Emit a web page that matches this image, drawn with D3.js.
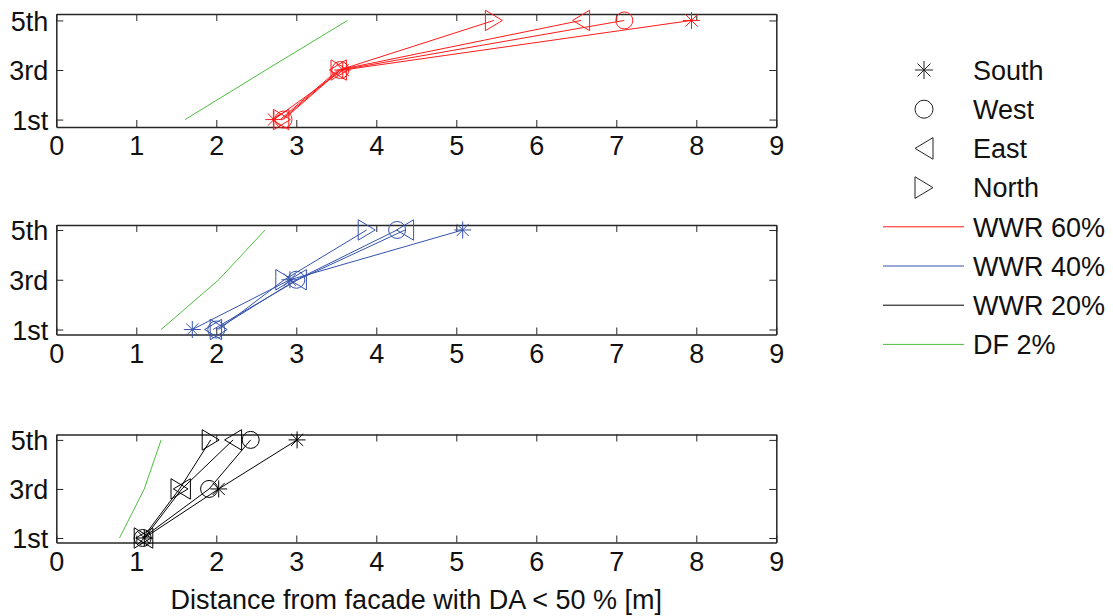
<!DOCTYPE html>
<html><head><meta charset="utf-8">
<script src="https://cdn.jsdelivr.net/npm/d3@7"></script>
<style>body{margin:0;background:#fff}svg{display:block}text{font-family:"Liberation Sans",Arial,sans-serif}</style>
</head><body><svg id="c" width="1113" height="616"></svg>
<script>
// ---- data ----
const xTicks = [0,1,2,3,4,5,6,7,8,9];
const floors = [1,3,5];
const floorLabels = ["1st","3rd","5th"];
const orientations = ["South","West","East","North"];
const seriesNames = ["WWR 60%","WWR 40%","WWR 20%","DF 2%"];
// WWR 60% (distance at 1st, 3rd, 5th floor)
const w60South = [2.72, 3.58, 7.94];
const w60West  = [2.84, 3.55, 7.10];
const w60East  = [2.80, 3.52, 6.56];
const w60North = [2.82, 3.54, 5.47];
const df60     = [1.61, 2.62, 3.64];
// WWR 40%
const w40South = [1.70, 2.92, 5.08];
const w40West  = [2.00, 3.00, 4.26];
const w40East  = [1.96, 3.02, 4.36];
const w40North = [2.03, 2.85, 3.88];
const df40     = [1.31, 2.03, 2.61];
// WWR 20%
const w20South = [1.10, 2.03, 3.01];
const w20West  = [1.08, 1.91, 2.43];
const w20East  = [1.10, 1.57, 2.21];
const w20North = [1.08, 1.54, 1.93];
const df20     = [0.79, 1.10, 1.31];
const xLabel = "Distance from facade with DA < 50 % [m]";

// ---- layout ----
const svg = d3.select("#c");
const FS = 27;
const colors = {"WWR 60%":"#ff1a1a","WWR 40%":"#3553ad","WWR 20%":"#000000","DF 2%":"#4cbf3c"};
const panels = [
  {name:"WWR 60%", top:14, bottom:127, ylim:[0.70,5.26], data:[w60South,w60West,w60East,w60North], df:df60},
  {name:"WWR 40%", top:225, bottom:334.5, ylim:[0.80,5.20], data:[w40South,w40West,w40East,w40North], df:df40},
  {name:"WWR 20%", top:434.5, bottom:542.5, ylim:[0.816,5.22], data:[w20South,w20West,w20East,w20North], df:df20}
];
const x = d3.scaleLinear().domain([0,9]).range([56.3,776.3]);

function markerPath(type, s){
  const p = d3.path();
  if(type==="South"){ // asterisk
    const a = s*0.5, b = s*0.36;
    p.moveTo(-a,0);p.lineTo(a,0);p.moveTo(0,-a);p.lineTo(0,a);
    p.moveTo(-b,-b);p.lineTo(b,b);p.moveTo(-b,b);p.lineTo(b,-b);
  } else if(type==="West"){
    p.moveTo(s*0.5,0);p.arc(0,0,s*0.5,0,2*Math.PI);
  } else if(type==="East"){ // left pointing
    const w=s*0.5, h=s*0.6;
    p.moveTo(-w,0);p.lineTo(w,-h);p.lineTo(w,h);p.closePath();
  } else { // North, right pointing
    const w=s*0.5, h=s*0.6;
    p.moveTo(w,0);p.lineTo(-w,-h);p.lineTo(-w,h);p.closePath();
  }
  return p.toString();
}

panels.forEach(P=>{
  const y = d3.scaleLinear().domain(P.ylim).range([P.bottom,P.top]);
  const g = svg.append("g");
  const col = colors[P.name];
  // axes (MATLAB style, ticks inward, box)
  const axB = d3.axisBottom(x).tickValues(xTicks).tickSizeInner(-7).tickSizeOuter(0).tickPadding(9);
  const axT = d3.axisTop(x).tickValues(xTicks).tickSizeInner(-7).tickSizeOuter(0).tickFormat("");
  const axL = d3.axisLeft(y).tickValues(floors).tickSizeInner(-7).tickSizeOuter(0).tickPadding(8).tickFormat((d,i)=>floorLabels[i]);
  const axR = d3.axisRight(y).tickValues(floors).tickSizeInner(-7).tickSizeOuter(0).tickFormat("");
  const gb = g.append("g").attr("transform",`translate(0,${P.bottom})`).call(axB);
  const gt = g.append("g").attr("transform",`translate(0,${P.top})`).call(axT);
  const gl = g.append("g").attr("transform",`translate(${x(0)},0)`).call(axL);
  const gr = g.append("g").attr("transform",`translate(${x(9)},0)`).call(axR);
  [gb,gt,gl,gr].forEach(a=>{
    a.select(".domain").attr("stroke","#262626").attr("stroke-width",1.5);
    a.selectAll(".tick line").attr("stroke","#262626").attr("stroke-width",1);
    a.selectAll("text").attr("font-size",FS).attr("font-family",'"Liberation Sans",Arial,sans-serif').attr("fill","#111");
  });
  gb.selectAll(".tick text").attr("dy","0.71em");
  gl.selectAll(".tick text").attr("dy","0.36em");
  // DF line
  const line = d3.line().x(d=>x(d[0])).y(d=>y(d[1]));
  g.append("path").attr("d",line(P.df.map((v,i)=>[v,floors[i]])))
    .attr("fill","none").attr("stroke",colors["DF 2%"]).attr("stroke-width",1);
  // series
  P.data.forEach((arr,k)=>{
    const pts = arr.map((v,i)=>[v,floors[i]]);
    g.append("path").attr("d",line(pts)).attr("fill","none").attr("stroke",col).attr("stroke-width",1);
    g.selectAll(null).data(pts).enter().append("path")
      .attr("transform",d=>`translate(${x(d[0])},${y(d[1])})`)
      .attr("d",markerPath(orientations[k],17))
      .attr("fill","none").attr("stroke",col).attr("stroke-width",1);
  });
});

// x label
svg.append("text").attr("x",x(4.5)).attr("y",609).attr("text-anchor","middle")
  .attr("font-size",FS).attr("fill","#111").text(xLabel);

// legend
const legY0 = 70, legStep = 39.2;
orientations.forEach((o,i)=>{
  const yy = legY0 + i*legStep;
  svg.append("path").attr("transform",`translate(924,${yy})`).attr("d",markerPath(o,18))
    .attr("fill","none").attr("stroke","#222").attr("stroke-width",1);
  svg.append("text").attr("x",973).attr("y",yy).attr("dy","0.36em").attr("font-size",FS).attr("fill","#111").text(o);
});
seriesNames.forEach((s,i)=>{
  const yy = legY0 + (i+4)*legStep;
  svg.append("line").attr("x1",883).attr("x2",964).attr("y1",yy).attr("y2",yy)
    .attr("stroke",colors[s]).attr("stroke-width",1);
  svg.append("text").attr("x",973).attr("y",yy).attr("dy","0.36em").attr("font-size",FS).attr("fill","#111").text(s);
});
</script></body></html>
